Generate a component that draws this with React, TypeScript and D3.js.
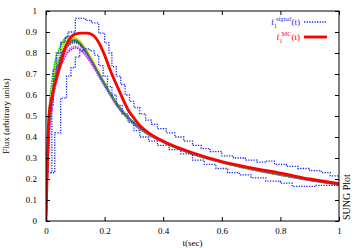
import * as d3 from "d3";
import { useEffect, useRef } from "react";

// time grid shared by the simulated cluster curves
const tGrid = [0, 0.005, 0.01, 0.02, 0.03, 0.04, 0.05, 0.06, 0.07, 0.08, 0.09, 0.1, 0.11, 0.12, 0.14, 0.16, 0.18, 0.2, 0.22, 0.25, 0.3, 0.35, 0.4, 0.5, 0.6, 0.7, 0.8, 0.9, 1];

const clusterColors = ["#00c000", "#80e000", "#00d0d0", "#ffa000", "#404040", "#e000e0", "#c080ff", "#3060ff", "#c04000", "#e0e000", "#008080"];

const c1 = [0, .33, .5, .66, .75, .8, .835, .86, .875, .88, .878, .87, .855, .84, .8, .75, .7, .65, .6, .535, .46, .41, .375, .318, .278, .245, .218, .194, .172];
const c2 = [0, .3, .47, .63, .72, .78, .815, .845, .865, .875, .877, .872, .86, .845, .805, .755, .705, .655, .605, .54, .465, .415, .378, .32, .28, .247, .22, .195, .174];
const c3 = [0, .27, .44, .6, .69, .75, .79, .82, .845, .86, .865, .862, .852, .838, .8, .752, .702, .652, .604, .54, .466, .416, .378, .32, .28, .247, .22, .195, .175];
const c4 = [0, .26, .43, .59, .68, .74, .785, .815, .84, .857, .866, .868, .862, .848, .81, .76, .71, .66, .61, .545, .47, .418, .38, .322, .281, .248, .221, .196, .175];
const c5 = [0, .24, .41, .57, .66, .72, .765, .8, .825, .84, .848, .85, .845, .832, .795, .75, .7, .65, .603, .54, .467, .417, .379, .321, .281, .248, .221, .196, .175];
const c6 = [0, .22, .38, .54, .63, .69, .735, .77, .795, .81, .82, .825, .822, .812, .78, .738, .69, .642, .597, .535, .463, .414, .377, .32, .28, .247, .22, .195, .175];
const c7 = [0, .23, .39, .55, .64, .7, .745, .78, .805, .82, .83, .833, .828, .818, .785, .742, .695, .646, .6, .538, .465, .415, .378, .32, .28, .247, .22, .195, .175];
const c8 = [0, .25, .42, .58, .67, .73, .775, .81, .833, .848, .856, .858, .852, .838, .8, .753, .703, .653, .606, .542, .468, .418, .379, .321, .281, .248, .221, .196, .175];
const c9 = [0, .25, .42, .58, .675, .735, .78, .812, .836, .85, .858, .86, .855, .842, .803, .755, .705, .655, .607, .543, .468, .418, .38, .322, .282, .248, .221, .196, .176];
const c10 = [0, .28, .45, .61, .7, .76, .8, .83, .852, .866, .872, .872, .864, .85, .81, .762, .712, .66, .61, .545, .47, .419, .38, .322, .282, .248, .221, .196, .176];
const c11 = [0, .26, .43, .59, .68, .74, .782, .815, .838, .852, .86, .86, .853, .84, .8, .752, .703, .653, .606, .542, .467, .417, .379, .321, .281, .248, .221, .196, .175];
const clusterCurves = [c1, c2, c3, c4, c5, c6, c7, c8, c9, c10, c11];

// f1 signal: upper and lower step curves
const upperT = [0.015, 0.02, 0.025, 0.035, 0.05, 0.065, 0.075, 0.1, 0.135, 0.155, 0.18, 0.2, 0.215, 0.225, 0.24, 0.255, 0.27, 0.285, 0.3, 0.32, 0.34, 0.36, 0.38, 0.41, 0.44, 0.47, 0.5, 0.53, 0.56, 0.6, 0.64, 0.68, 0.72, 0.75, 0.78, 0.82, 0.86, 0.9, 0.94, 0.97, 1.0];
const upperV = [0.23, 0.55, 0.72, 0.8, 0.85, 0.876, 0.9, 0.965, 0.955, 0.943, 0.895, 0.848, 0.8, 0.735, 0.69, 0.65, 0.6, 0.57, 0.54, 0.51, 0.48, 0.46, 0.44, 0.42, 0.4, 0.38, 0.36, 0.345, 0.33, 0.31, 0.3, 0.29, 0.28, 0.285, 0.27, 0.26, 0.25, 0.24, 0.23, 0.215, 0.205];
const lowerT = [0.015, 0.03, 0.05, 0.07, 0.085, 0.1, 0.115, 0.13, 0.15, 0.165, 0.18, 0.195, 0.21, 0.225, 0.24, 0.26, 0.28, 0.3, 0.32, 0.35, 0.38, 0.42, 0.46, 0.5, 0.54, 0.58, 0.62, 0.66, 0.7, 0.75, 0.8, 0.84, 0.88, 0.92, 0.96, 1.0];
const lowerV = [0.23, 0.42, 0.585, 0.69, 0.73, 0.78, 0.81, 0.82, 0.81, 0.79, 0.74, 0.69, 0.64, 0.6, 0.55, 0.51, 0.47, 0.43, 0.4, 0.38, 0.36, 0.34, 0.32, 0.29, 0.27, 0.25, 0.23, 0.22, 0.205, 0.19, 0.18, 0.165, 0.165, 0.17, 0.17, 0.165];

// f1 MC
const mcT = [0, 0.005, 0.01, 0.02, 0.03, 0.04, 0.05, 0.06, 0.07, 0.08, 0.09, 0.1, 0.12, 0.14, 0.16, 0.18, 0.2, 0.22, 0.25, 0.28, 0.3, 0.32, 0.35, 0.4, 0.5, 0.6, 0.7, 0.8, 0.9, 1];
const mcV = [0, 0.3, 0.5, 0.59, 0.65, 0.7, 0.75, 0.8, 0.84, 0.865, 0.882, 0.89, 0.895, 0.895, 0.885, 0.85, 0.79, 0.715, 0.62, 0.53, 0.49, 0.455, 0.42, 0.38, 0.325, 0.283, 0.253, 0.228, 0.2, 0.178];

const xTicks = [0, 0.2, 0.4, 0.6, 0.8, 1];
const yTicks = [0, 0.1, 0.2, 0.3, 0.4, 0.5, 0.6, 0.7, 0.8, 0.9, 1];

const App = () => {
  const ref = useRef<SVGSVGElement>(null);
  useEffect(() => {
    const margin = { top: 11, right: 15, bottom: 27, left: 46 },
      width = 354 - margin.left - margin.right,
      height = 248 - margin.top - margin.bottom;

    const root = d3.select(ref.current);
    root.selectAll("*").remove();
    const font = "'Liberation Serif', 'DejaVu Serif', serif";

    const svg = root.append("g").attr("transform", `translate(${margin.left},${margin.top})`);

    const x = d3.scaleLinear().domain([0, 1]).range([0, width]);
    const y = d3.scaleLinear().domain([0, 1]).range([height, 0]);

    svg.append("clipPath").attr("id", "plotclip")
      .append("rect").attr("width", width).attr("height", height);

    const data = svg.append("g").attr("clip-path", "url(#plotclip)");

    const smooth = d3.line<number>()
      .x((_, i) => x(tGrid[i]))
      .y((d) => y(d))
      .curve(d3.curveMonotoneX);

    // cluster of simulated curves
    clusterCurves.forEach((c, i) => {
      data.append("path")
        .attr("d", smooth(c))
        .attr("fill", "none")
        .attr("stroke", clusterColors[i])
        .attr("stroke-width", 1.8)
        .attr("stroke-dasharray", "1.6,0.8");
    });

    // signal step curves
    const step = (ts: number[]) => d3.line<number>()
      .x((_, i) => x(ts[i]))
      .y((d) => y(d))
      .curve(d3.curveStepAfter);
    [[upperT, upperV], [lowerT, lowerV]].forEach(([ts, vs]) => {
      data.append("path")
        .attr("d", step(ts)(vs))
        .attr("fill", "none")
        .attr("stroke", "#1a2cf0")
        .attr("stroke-width", 1.3)
        .attr("stroke-dasharray", "1.3,1.3");
    });

    // MC curve
    const mcLine = d3.line<number>()
      .x((_, i) => x(mcT[i]))
      .y((d) => y(d))
      .curve(d3.curveMonotoneX);
    data.append("path")
      .attr("d", mcLine(mcV))
      .attr("fill", "none")
      .attr("stroke", "#ff0000")
      .attr("stroke-width", 2.8);

    // axes
    const fmt = d3.format("~g");
    const axisStyle = (g: any) => {
      g.select(".domain").remove();
      g.selectAll("line").attr("stroke", "#000");
      g.selectAll("text").attr("font-family", font).attr("font-size", 9).attr("fill", "#000");
    };
    svg.append("g").attr("transform", `translate(0,${height})`)
      .call(d3.axisBottom(x).tickValues(xTicks).tickFormat(fmt).tickSizeInner(-4).tickPadding(7))
      .call(axisStyle);
    svg.append("g")
      .call(d3.axisTop(x).tickValues(xTicks).tickFormat(() => "").tickSizeInner(-4))
      .call(axisStyle);
    svg.append("g")
      .call(d3.axisLeft(y).tickValues(yTicks).tickFormat(fmt).tickSizeInner(-4).tickPadding(9))
      .call(axisStyle);
    svg.append("g").attr("transform", `translate(${width},0)`)
      .call(d3.axisRight(y).tickValues(yTicks).tickFormat(() => "").tickSizeInner(-4))
      .call(axisStyle);

    svg.append("rect")
      .attr("width", width).attr("height", height)
      .attr("fill", "none").attr("stroke", "#000").attr("stroke-width", 1);

    // axis titles
    svg.append("text")
      .attr("x", width / 2).attr("y", height + 25)
      .attr("text-anchor", "middle")
      .attr("font-family", font).attr("font-size", 9)
      .text("t(sec)");
    svg.append("text")
      .attr("transform", `translate(${-37},${height / 2}) rotate(-90)`)
      .attr("text-anchor", "middle")
      .attr("font-family", font).attr("font-size", 9)
      .text("Flux (arbitrary units)");
    svg.append("text")
      .attr("transform", `translate(${width + 11},${height - 1}) rotate(-90)`)
      .attr("text-anchor", "start")
      .attr("font-family", font).attr("font-size", 10)
      .text("SUNG Plot");

    // legend
    const legend = svg.append("g").attr("font-family", font);
    const entries = [
      { sup: "signal", color: "#1a2cf0", dash: "1.3,1.3", w: 1.3, yy: 11 },
      { sup: "MC", color: "#ff0000", dash: null, w: 2.8, yy: 26 },
    ];
    entries.forEach((e) => {
      const t = legend.append("text")
        .attr("x", 254).attr("y", e.yy + 3)
        .attr("text-anchor", "end")
        .attr("fill", e.color)
        .attr("font-size", 9);
      t.append("tspan").text("f");
      t.append("tspan").attr("font-size", 6).attr("dy", 2.5).text("1");
      t.append("tspan").attr("font-size", 6.5).attr("dy", -7).attr("dx", -1).text(e.sup);
      t.append("tspan").attr("dy", 4.5).text("(t)");
      legend.append("line")
        .attr("x1", 258).attr("x2", 281)
        .attr("y1", e.yy).attr("y2", e.yy)
        .attr("stroke", e.color)
        .attr("stroke-width", e.w)
        .attr("stroke-dasharray", e.dash);
    });
  }, []);

  return <svg width={354} height={248} ref={ref} style={{ position: "absolute", left: 0, top: 0, background: "#fff" }} />;
};

export default App;
